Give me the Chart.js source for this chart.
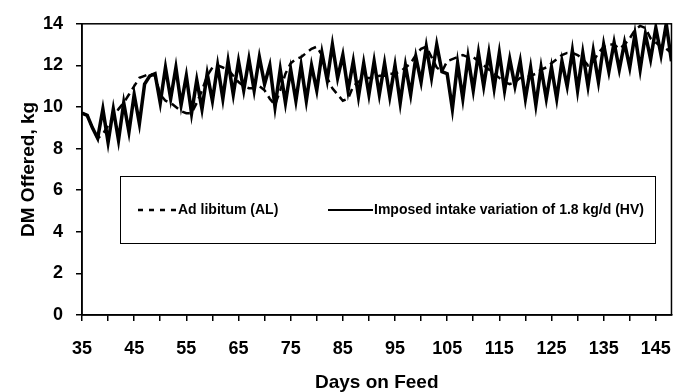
<!DOCTYPE html>
<html>
<head>
<meta charset="utf-8">
<script src="https://cdn.jsdelivr.net/npm/chart.js@4"></script>
<style>
	html, body { margin: 0; padding: 0; background: #fff; }
	#dmChart { display: block; }
</style>
</head>
<body>
<canvas id="dmChart" width="688" height="392"></canvas>
<script>
'use strict';

const firstDay = 35;
const lastDay = 148;
const yTicks = [0, 2, 4, 6, 8, 10, 12, 14];

const alLabel = 'Ad libitum (AL)';
const hvLabel = 'Imposed intake variation of 1.8 kg/d (HV)';

// DM offered, kg/d, days 35..148
const alValues = [
	9.7, 9.6, 9.0, 8.5, 8.7, 9.1, 9.5, 9.9, 10.2, 10.6,
	11.0, 11.4, 11.5, 11.6, 11.5, 10.6, 10.3, 10.2, 10.0, 9.8,
	9.7, 9.7, 10.2, 10.8, 11.5, 11.9, 12.0, 11.9, 11.8, 11.5,
	11.2, 11.0, 10.9, 10.9, 11.0, 10.8, 10.4, 10.1, 10.8, 11.6,
	12.1, 12.3, 12.4, 12.6, 12.8, 12.9, 12.5, 11.4, 10.9, 10.6,
	10.3, 10.4, 11.0, 11.2, 11.4, 11.4, 11.4, 11.5, 11.5, 11.6,
	11.6, 11.7, 11.9, 12.1, 12.5, 12.8, 12.9, 12.4, 11.9, 11.7,
	12.2, 12.3, 12.4, 12.5, 12.4, 12.4, 12.2, 12.0, 11.8, 11.6,
	11.4, 11.2, 11.1, 11.2, 11.4, 11.4, 11.5, 11.6, 11.8, 11.9,
	12.1, 12.3, 12.5, 12.6, 12.6, 12.5, 12.3, 12.0, 12.2, 12.6,
	12.9, 13.0, 13.0, 12.8, 13.0, 13.3, 13.7, 13.9, 13.8, 13.3,
	13.1, 12.9, 12.8, 12.6
];

const hvValues = [
	9.7, 9.6, 9.0, 8.5, 9.9, 8.3, 9.9, 8.4, 10.2, 8.8,
	10.6, 9.2, 11.1, 11.5, 11.6, 10.2, 11.9, 10.4, 11.9, 10.1,
	11.5, 9.7, 11.3, 9.9, 11.6, 10.3, 12.0, 10.4, 12.2, 10.6,
	12.2, 10.8, 12.3, 10.8, 12.4, 11.1, 12.0, 10.0, 11.8, 10.2,
	11.8, 10.3, 12.0, 10.3, 12.0, 10.8, 12.6, 11.3, 13.0, 11.4,
	12.5, 10.8, 12.2, 10.5, 12.1, 10.6, 12.2, 10.6, 12.1, 10.5,
	12.0, 10.2, 12.0, 10.6, 12.4, 11.2, 12.9, 11.4, 13.0, 11.7,
	11.6, 9.9, 12.1, 10.4, 12.4, 10.8, 12.6, 11.0, 12.6, 10.9,
	12.6, 10.8, 12.3, 11.0, 12.2, 10.4, 11.9, 10.1, 11.9, 10.4,
	11.9, 10.4, 12.2, 11.0, 12.7, 10.8, 12.6, 11.0, 12.7, 11.2,
	13.0, 11.7, 13.1, 11.8, 13.1, 11.9, 13.5, 11.8, 13.5, 12.3,
	13.8, 12.5, 14.0, 12.2
];

const days = [];
for (let d = firstDay; d <= lastDay; d++) {
	days.push(d);
}

const FONT = "'Liberation Sans', Arial, sans-serif";

const toPoints = function (vals) {
	return vals.map((v, i) => ({ x: days[i], y: v }));
};

// frame round the plot and the boxed legend inside it
const framePlugin = {
	id: 'frame',
	afterDraw(chart) {
		const ctx = chart.ctx;
		const a = chart.chartArea;
		ctx.save();
		ctx.strokeStyle = '#000';
		ctx.lineWidth = 1.5;
		ctx.strokeRect(a.left, a.top, a.right - a.left, a.bottom - a.top);

		ctx.lineWidth = 1;
		ctx.strokeRect(120.5, 176.5, 535, 67);

		const ds = chart.data.datasets;
		const ty = 210;
		ctx.font = 'bold 14px ' + FONT;
		ctx.textBaseline = 'middle';
		ctx.fillStyle = '#000';

		ctx.lineWidth = 2.5;
		ctx.setLineDash([5, 6]);
		ctx.beginPath();
		ctx.moveTo(138, ty);
		ctx.lineTo(177, ty);
		ctx.stroke();
		ctx.setLineDash([]);
		ctx.fillText(ds[0].label, 178, ty);

		ctx.lineWidth = 2;
		ctx.beginPath();
		ctx.moveTo(328, ty);
		ctx.lineTo(373, ty);
		ctx.stroke();
		ctx.fillText(ds[1].label, 374, ty);
		ctx.restore();
	},
};

const createDmChart = function () {
	const el = document.getElementById('dmChart');
	if (!el) {
		return;
	}

	const data = {
		datasets: [
			{
				label: alLabel,
				data: toPoints(alValues),
				borderColor: '#000',
				borderWidth: 2.5,
				borderDash: [8, 5],
				pointRadius: 0,
				tension: 0,
				order: 2,
			},
			{
				label: hvLabel,
				data: toPoints(hvValues),
				borderColor: '#000',
				borderWidth: 3.5,
				pointRadius: 0,
				tension: 0,
				order: 1,
			},
		],
	};

	const options = {
		responsive: false,
		animation: false,
		layout: {
			padding: { top: 19, right: 6, left: 0, bottom: 0 },
		},
		scales: {
			x: {
				type: 'linear',
				min: firstDay,
				max: lastDay,
				afterFit(scale) {
					scale.height = 77;
				},
				border: { display: true, color: '#000', width: 1.5 },
				grid: {
					drawOnChartArea: false,
					drawTicks: true,
					tickLength: 6,
					color: '#000',
					lineWidth: 1.5,
				},
				ticks: {
					stepSize: 5,
					includeBounds: false,
					autoSkip: false,
					maxRotation: 0,
					padding: 17,
					color: '#000',
					font: { family: FONT, size: 18, weight: 'bold' },
					callback: (v) => ((v - firstDay) % 10 === 0 ? String(v) : ''),
				},
				title: {
					display: true,
					text: 'Days on Feed',
					color: '#000',
					font: { family: FONT, size: 19, weight: 'bold' },
					padding: { top: 0, bottom: -2 },
				},
			},
			y: {
				min: 0,
				max: 14,
				afterFit(scale) {
					scale.width = 82;
				},
				afterBuildTicks(scale) {
					scale.ticks = yTicks.map((v) => ({ value: v }));
				},
				border: { display: true, color: '#000', width: 1.5 },
				grid: {
					drawOnChartArea: false,
					drawTicks: true,
					tickLength: 6,
					color: '#000',
					lineWidth: 1.5,
				},
				ticks: {
					padding: 13,
					color: '#000',
					font: { family: FONT, size: 18, weight: 'bold' },
				},
				title: {
					display: true,
					text: 'DM Offered, kg',
					color: '#000',
					font: { family: FONT, size: 19, weight: 'bold' },
					padding: { top: 17, bottom: 0 },
				},
			},
		},
		plugins: {
			legend: { display: false },
			tooltip: { enabled: false },
		},
	};

	new Chart(el, {
		type: 'line',
		data: data,
		options: options,
		plugins: [framePlugin],
	});
};

document.addEventListener('DOMContentLoaded', createDmChart);
</script>
</body>
</html>
